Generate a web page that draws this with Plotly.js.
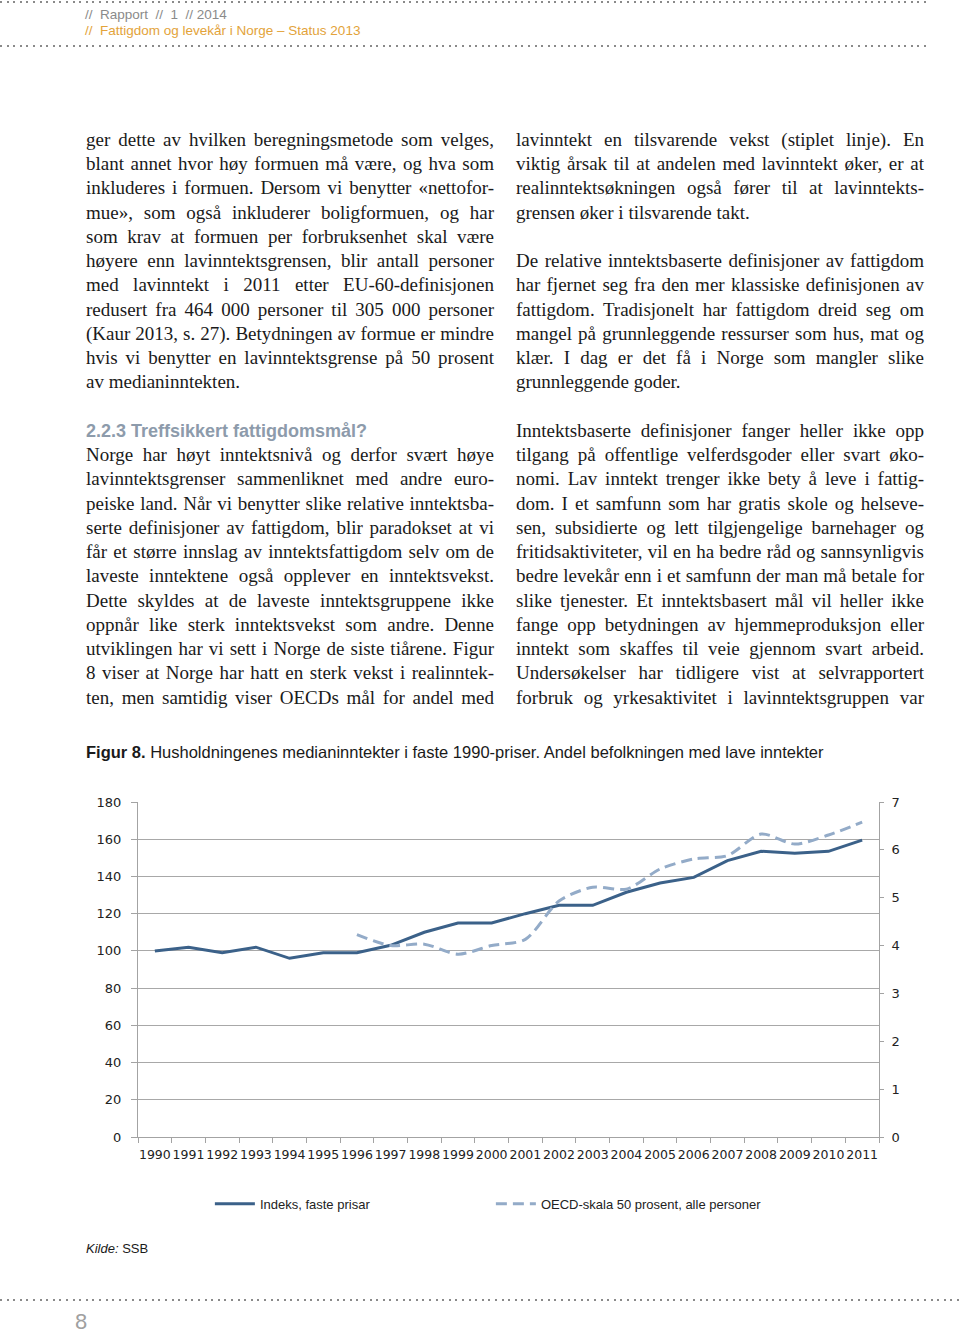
<!DOCTYPE html>
<html>
<head>
<meta charset="utf-8">
<script src="https://cdn.plot.ly/plotly-3.0.1.min.js"></script>
<style>
  html, body { margin:0; padding:0; background:#fff; }
  body { width:960px; height:1334px; position:relative; overflow:hidden; }
  .dots { position:absolute; height:2px;
    background: repeating-linear-gradient(to right, #8a8a8a 0 2px, transparent 2px 6.6px); }
  .hdr { position:absolute; left:85px; font-family:"Liberation Sans", Arial, sans-serif; font-size:13.5px; white-space:nowrap; }
  .ln { position:absolute; width:408px; height:24.25px; line-height:24.25px;
    font-family:"Liberation Serif", "Times New Roman", serif; font-size:19px; color:#1a1a1a; white-space:nowrap; }
  .jst { text-align:justify; text-align-last:justify; }
  .head { font-family:"Liberation Sans", Arial, sans-serif; font-weight:bold; font-size:18px; color:#8d9bab; }
  #chart { position:absolute; left:0; top:780px; width:960px; height:450px; }
  .cap { position:absolute; left:86px; top:743px; font-family:"Liberation Sans", Arial, sans-serif; font-size:16.5px; color:#1a1a1a; white-space:nowrap; }
  .src { position:absolute; left:86px; top:1241px; font-family:"Liberation Sans", Arial, sans-serif; font-size:13px; color:#1a1a1a; }
  .pg { position:absolute; left:75px; top:1309px; font-family:"Liberation Sans", Arial, sans-serif; font-size:22px; color:#a0a0a0; }
</style>
</head>
<body>
<div class="dots" style="left:0; top:1px; width:926px;"></div>
<div class="hdr" style="top:7px; color:#8a8a8a;">//&nbsp; Rapport&nbsp; //&nbsp; 1&nbsp; //&nbsp;2014</div>
<div class="hdr" style="top:23px; color:#e3a33a;">//&nbsp; Fattigdom og levekår i Norge – Status 2013</div>
<div class="dots" style="left:0; top:45px; width:926px;"></div>

<div id="textcols"></div>

<div class="cap"><b>Figur 8.</b> Husholdningenes medianinntekter i faste 1990-priser. Andel befolkningen med lave inntekter</div>
<div id="chart"></div>
<div class="src"><i>Kilde:</i> SSB</div>
<div class="dots" style="left:0; top:1299px; width:960px;"></div>
<div class="pg">8</div>

<script>
// ---------- Body text (two columns) ----------
const leftLines = [
  "ger dette av hvilken beregningsmetode som velges,",
  "blant annet hvor høy formuen må være, og hva som",
  "inkluderes i formuen. Dersom vi benytter «nettofor-",
  "mue», som også inkluderer boligformuen, og har",
  "som krav at formuen per forbruksenhet skal være",
  "høyere enn lavinntektsgrensen, blir antall personer",
  "med lavinntekt i 2011 etter EU-60-definisjonen",
  "redusert fra 464 000 personer til 305 000 personer",
  "(Kaur 2013, s. 27). Betydningen av formue er mindre",
  "hvis vi benytter en lavinntektsgrense på 50 prosent",
  "av medianinntekten.",
  "",
  "#2.2.3 Treffsikkert fattigdomsmål?",
  "Norge har høyt inntektsnivå og derfor svært høye",
  "lavinntektsgrenser sammenliknet med andre euro-",
  "peiske land. Når vi benytter slike relative inntektsba-",
  "serte definisjoner av fattigdom, blir paradokset at vi",
  "får et større innslag av inntektsfattigdom selv om de",
  "laveste inntektene også opplever en inntektsvekst.",
  "Dette skyldes at de laveste inntektsgruppene ikke",
  "oppnår like sterk inntektsvekst som andre. Denne",
  "utviklingen har vi sett i Norge de siste tiårene. Figur",
  "8 viser at Norge har hatt en sterk vekst i realinntek-",
  "ten, men samtidig viser OECDs mål for andel med"
];
const rightLines = [
  "lavinntekt en tilsvarende vekst (stiplet linje). En",
  "viktig årsak til at andelen med lavinntekt øker, er at",
  "realinntektsøkningen også fører til at lavinntekts-",
  "grensen øker i tilsvarende takt.",
  "",
  "De relative inntektsbaserte definisjoner av fattigdom",
  "har fjernet seg fra den mer klassiske definisjonen av",
  "fattigdom. Tradisjonelt har fattigdom dreid seg om",
  "mangel på grunnleggende ressurser som hus, mat og",
  "klær. I dag er det få i Norge som mangler slike",
  "grunnleggende goder.",
  "",
  "Inntektsbaserte definisjoner fanger heller ikke opp",
  "tilgang på offentlige velferdsgoder eller svart øko-",
  "nomi. Lav inntekt trenger ikke bety å leve i fattig-",
  "dom. I et samfunn som har gratis skole og helseve-",
  "sen, subsidierte og lett tilgjengelige barnehager og",
  "fritidsaktiviteter, vil en ha bedre råd og sannsynligvis",
  "bedre levekår enn i et samfunn der man må betale for",
  "slike tjenester. Et inntektsbasert mål vil heller ikke",
  "fange opp betydningen av hjemmeproduksjon eller",
  "inntekt som skaffes til veie gjennom svart arbeid.",
  "Undersøkelser har tidligere vist at selvrapportert",
  "forbruk og yrkesaktivitet i lavinntektsgruppen var"
];
(function () {
  const host = document.getElementById('textcols');
  function place(lines, left) {
    lines.forEach(function (t, i) {
      if (!t) return;
      const d = document.createElement('div');
      d.className = 'ln';
      d.style.left = left + 'px';
      d.style.top = (140 + 24.25 * i - 12.125) + 'px';
      if (t[0] === '#') {
        d.classList.add('head');
        d.textContent = t.slice(1);
      } else {
        d.textContent = t;
        const next = lines[i + 1];
        if (next !== '') d.classList.add('jst');
      }
      host.appendChild(d);
    });
  }
  place(leftLines, 86);
  place(rightLines, 516);
})();

// ---------- Chart data ----------
const years = ["1990","1991","1992","1993","1994","1995","1996","1997","1998","1999","2000",
               "2001","2002","2003","2004","2005","2006","2007","2008","2009","2010","2011"];
const indeksFastePrisar = [100, 102, 99, 102, 96, 99, 99, 103, 110, 115, 115,
                           120, 124.5, 124.5, 131.5, 136.5, 139.5, 148.5, 153.5, 152.5, 153.5, 159.5];
const oecdAndel50 = [null, null, null, null, null, null, 4.23, 4.0, 4.03, 3.82, 4.0,
                     4.13, 4.93, 5.22, 5.18, 5.6, 5.81, 5.88, 6.33, 6.12, 6.31, 6.58];
const seriesNames = ["Indeks, faste prisar", "OECD-skala 50 prosent, alle personer"];
const leftTicks = [0, 20, 40, 60, 80, 100, 120, 140, 160, 180];
const rightTicks = [0, 1, 2, 3, 4, 5, 6, 7];

const traces = [
  { x: years, y: indeksFastePrisar, name: seriesNames[0], type: 'scatter', mode: 'lines',
    line: { color: '#3b6189', width: 3 }, yaxis: 'y' },
  { x: years, y: oecdAndel50, name: seriesNames[1], type: 'scatter', mode: 'lines',
    line: { color: '#93abc8', width: 3, dash: '11px,6px', shape: 'spline', smoothing: 0.8 },
    yaxis: 'y2', connectgaps: false }
];

const axisGray = '#a3a3a3';
const layout = {
  width: 960, height: 450,
  margin: { l: 138, r: 81, t: 22, b: 92 },
  paper_bgcolor: 'rgba(0,0,0,0)', plot_bgcolor: 'rgba(0,0,0,0)',
  font: { family: '"DejaVu Sans", Verdana, sans-serif', size: 13, color: '#222' },
  showlegend: true,
  legend: { orientation: 'h', x: 0.097, xanchor: 'left', y: -0.196, yanchor: 'middle',
            font: { family: '"Liberation Sans", Arial, sans-serif', size: 13, color: '#222' },
            entrywidth: 226, entrywidthmode: 'pixels', traceorder: 'normal', itemwidth: 40 },
  xaxis: { type: 'category', range: [-0.5, 21.5], tickson: 'boundaries', ticks: 'outside', ticklen: 5,
           tickangle: 0, tickfont: { size: 12.5 },
           tickcolor: axisGray, showline: true, linecolor: axisGray, linewidth: 1,
           showgrid: false, zeroline: false, ticklabelstandoff: 6 },
  yaxis: { range: [0, 180], tickvals: leftTicks, ticks: 'outside', ticklen: 6, tickcolor: axisGray,
           showline: true, linecolor: axisGray, gridcolor: '#a8a8a8', gridwidth: 1,
           zeroline: false, ticklabelstandoff: 7 },
  yaxis2: { range: [0, 7], tickvals: rightTicks, overlaying: 'y', side: 'right', showgrid: false,
            showline: true, linecolor: axisGray, ticks: 'outside', ticklen: 4, tickcolor: axisGray,
            zeroline: false, ticklabelstandoff: 5 }
};
Plotly.newPlot('chart', traces, layout, { displayModeBar: false, staticPlot: true });
</script>
</body>
</html>
